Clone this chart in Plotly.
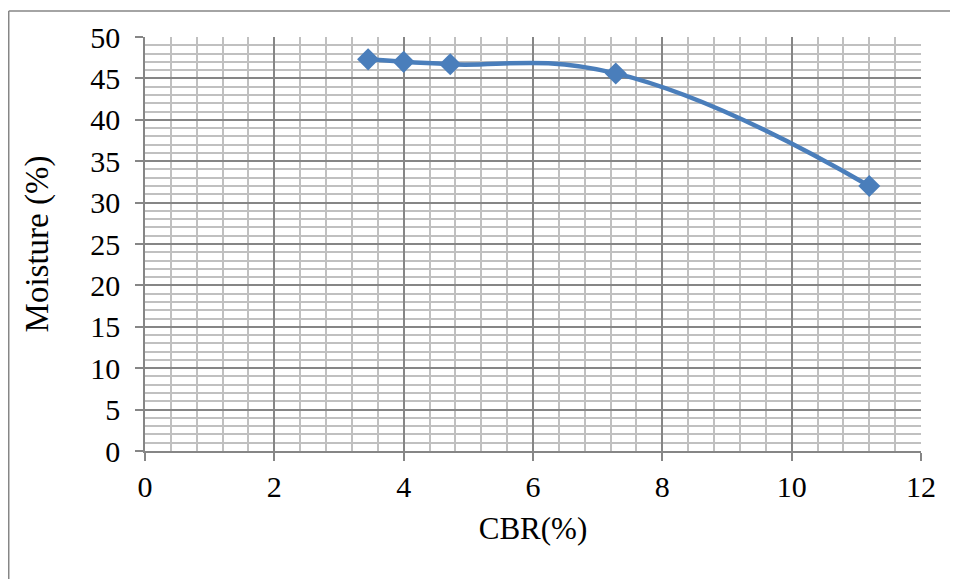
import plotly.graph_objects as go

cbr = [3.45, 4.0, 4.72, 7.28, 11.2]
moisture = [47.3, 47.0, 46.7, 45.6, 32.0]

x_ticks = [0, 2, 4, 6, 8, 10, 12]
y_ticks = [0, 5, 10, 15, 20, 25, 30, 35, 40, 45, 50]

major = "#868686"
minor = "#c0c0c0"
font = "Liberation Serif"

fig = go.Figure()
fig.add_trace(go.Scatter(
    x=cbr, y=moisture, mode="lines+markers",
    line=dict(color="#4A7EBB", width=4.5, shape="spline", smoothing=1.3),
    marker=dict(symbol="diamond", size=17, color="#4A7EBB"),
    showlegend=False,
))

fig.update_layout(
    width=958, height=579,
    margin=dict(l=137, r=45, t=27, b=136),
    paper_bgcolor="white", plot_bgcolor="white",
    font=dict(family=font, color="black", size=30),
    xaxis=dict(
        range=[0, 12], tickvals=x_ticks, showgrid=True, gridcolor=major, gridwidth=1.5,
        minor=dict(dtick=0.4, tick0=0, showgrid=True, gridcolor=minor, gridwidth=1.5),
        ticks="outside", ticklen=8, tickcolor=major, tickwidth=1.5,
        showline=True, linecolor=major, linewidth=1.5, zeroline=False,
        tickfont=dict(size=30, family=font), ticklabelstandoff=0,
        title=dict(text="CBR(%)", font=dict(size=31, family=font), standoff=16),
    ),
    yaxis=dict(
        range=[0, 50], tickvals=y_ticks, showgrid=True, gridcolor=major, gridwidth=1.5,
        minor=dict(dtick=1, tick0=0, showgrid=True, gridcolor=minor, gridwidth=1.5),
        ticks="outside", ticklen=8, tickcolor=major, tickwidth=1.5,
        showline=True, linecolor=major, linewidth=1.5, zeroline=False,
        tickfont=dict(size=30, family=font), ticklabelstandoff=9,
        title=dict(text="Moisture (%)", font=dict(size=33, family=font), standoff=32),
    ),
)

# outer chart frame (left and top edges visible)
fig.add_shape(type="line", xref="paper", yref="paper",
              x0=-0.1756, x1=1.2, y0=1.0631, y1=1.0631,
              line=dict(color=major, width=1.5))
fig.add_shape(type="line", xref="paper", yref="paper",
              x0=-0.1756, x1=-0.1756, y0=1.0631, y1=-0.5,
              line=dict(color=major, width=1.5))

fig.write_html("out.html")
